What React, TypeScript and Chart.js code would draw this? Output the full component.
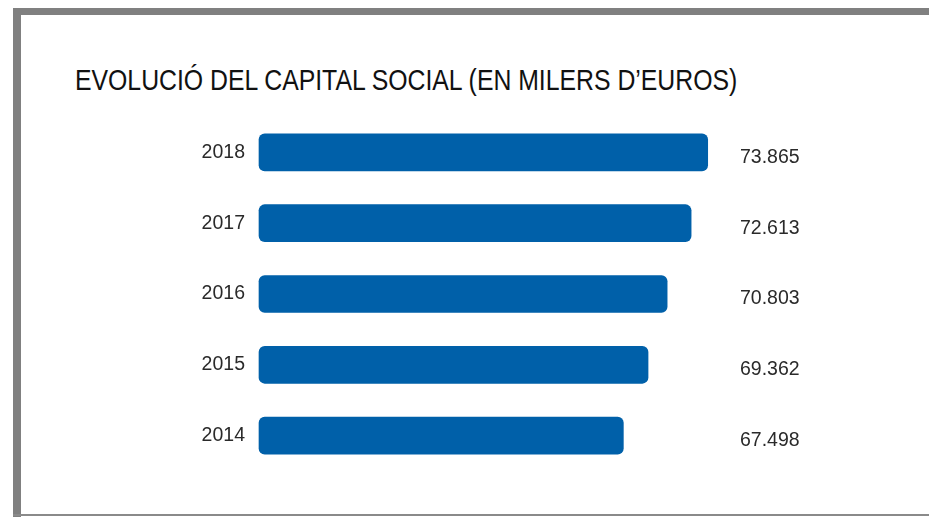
import React, { useEffect, useRef } from "react";
import { Chart, registerables } from "chart.js";

Chart.register(...registerables);

const TITLE = "EVOLUCIÓ DEL CAPITAL SOCIAL (EN MILERS D\u2019EUROS)";
const years = ["2018", "2017", "2016", "2015", "2014"];
const capital = [73865, 72613, 70803, 69362, 67498];
const axisMin = 40000;
const axisMax = 80000;

const BLUE = "#0060A9";
const TEXT = "#2a2a2a";
const FONT = "'Liberation Sans', Arial, sans-serif";

function fmt(v: number): string {
  const s = String(Math.round(v));
  return s.replace(/\B(?=(\d{3})+(?!\d))/g, ".");
}

const valueLabels = {
  id: "valueLabels",
  afterDatasetsDraw(chart: any) {
    const ctx = chart.ctx;
    const meta = chart.getDatasetMeta(0);
    ctx.save();
    ctx.font = "19.5px " + FONT;
    ctx.fillStyle = TEXT;
    ctx.textAlign = "left";
    ctx.textBaseline = "middle";
    meta.data.forEach((bar: any, i: number) => {
      ctx.fillText(fmt(capital[i]), 740, bar.y + 5);
    });
    ctx.restore();
  },
};

export default function App() {
  const ref = useRef<HTMLCanvasElement | null>(null);
  useEffect(() => {
    if (!ref.current) return;
    const chart = new Chart(ref.current, {
      type: "bar",
      data: {
        labels: years,
        datasets: [
          {
            data: capital,
            base: axisMin,
            backgroundColor: BLUE,
            borderRadius: 6,
            borderSkipped: false,
            barThickness: 37,
            clip: false,
          } as any,
        ],
      },
      options: {
        indexAxis: "y",
        animation: false,
        responsive: false,
        maintainAspectRatio: false,
        layout: { padding: { top: 117, bottom: 46, left: 0, right: 140 } },
        plugins: {
          legend: { display: false },
          tooltip: { enabled: false },
          title: { display: false },
        },
        scales: {
          x: {
            display: false,
            min: axisMin,
            max: axisMax,
          },
          y: {
            grid: { display: false },
            border: { display: false },
            ticks: {
              font: { size: 19.5, family: FONT },
              color: TEXT,
              padding: 6,
            },
            afterFit: (scale: any) => {
              scale.width = 259;
            },
          },
        },
      },
      plugins: [valueLabels],
    });
    return () => chart.destroy();
  }, []);

  return (
    <div style={{ position: "absolute", left: 0, top: 0, width: 929, height: 517, background: "#fff", overflow: "hidden" }}>
      <div style={{ position: "absolute", left: 13, top: 8, right: 0, height: 7, background: "#808080" }} />
      <div style={{ position: "absolute", left: 13, top: 8, width: 8, bottom: 0, background: "#808080" }} />
      <div style={{ position: "absolute", left: 13, top: 514, right: 0, height: 1.5, background: "#8a8a8a" }} />
      <div
        style={{
          position: "absolute",
          left: 75,
          top: 60,
          fontFamily: "'Liberation Sans', Arial, sans-serif",
          fontSize: 29,
          color: "#111",
          whiteSpace: "nowrap",
          lineHeight: "40px",
          transform: "scaleX(0.855)",
          transformOrigin: "left center",
        }}
      >
        {TITLE}
      </div>
      <canvas ref={ref} width={929} height={517} style={{ position: "absolute", left: 0, top: 0 }} />
    </div>
  );
}
